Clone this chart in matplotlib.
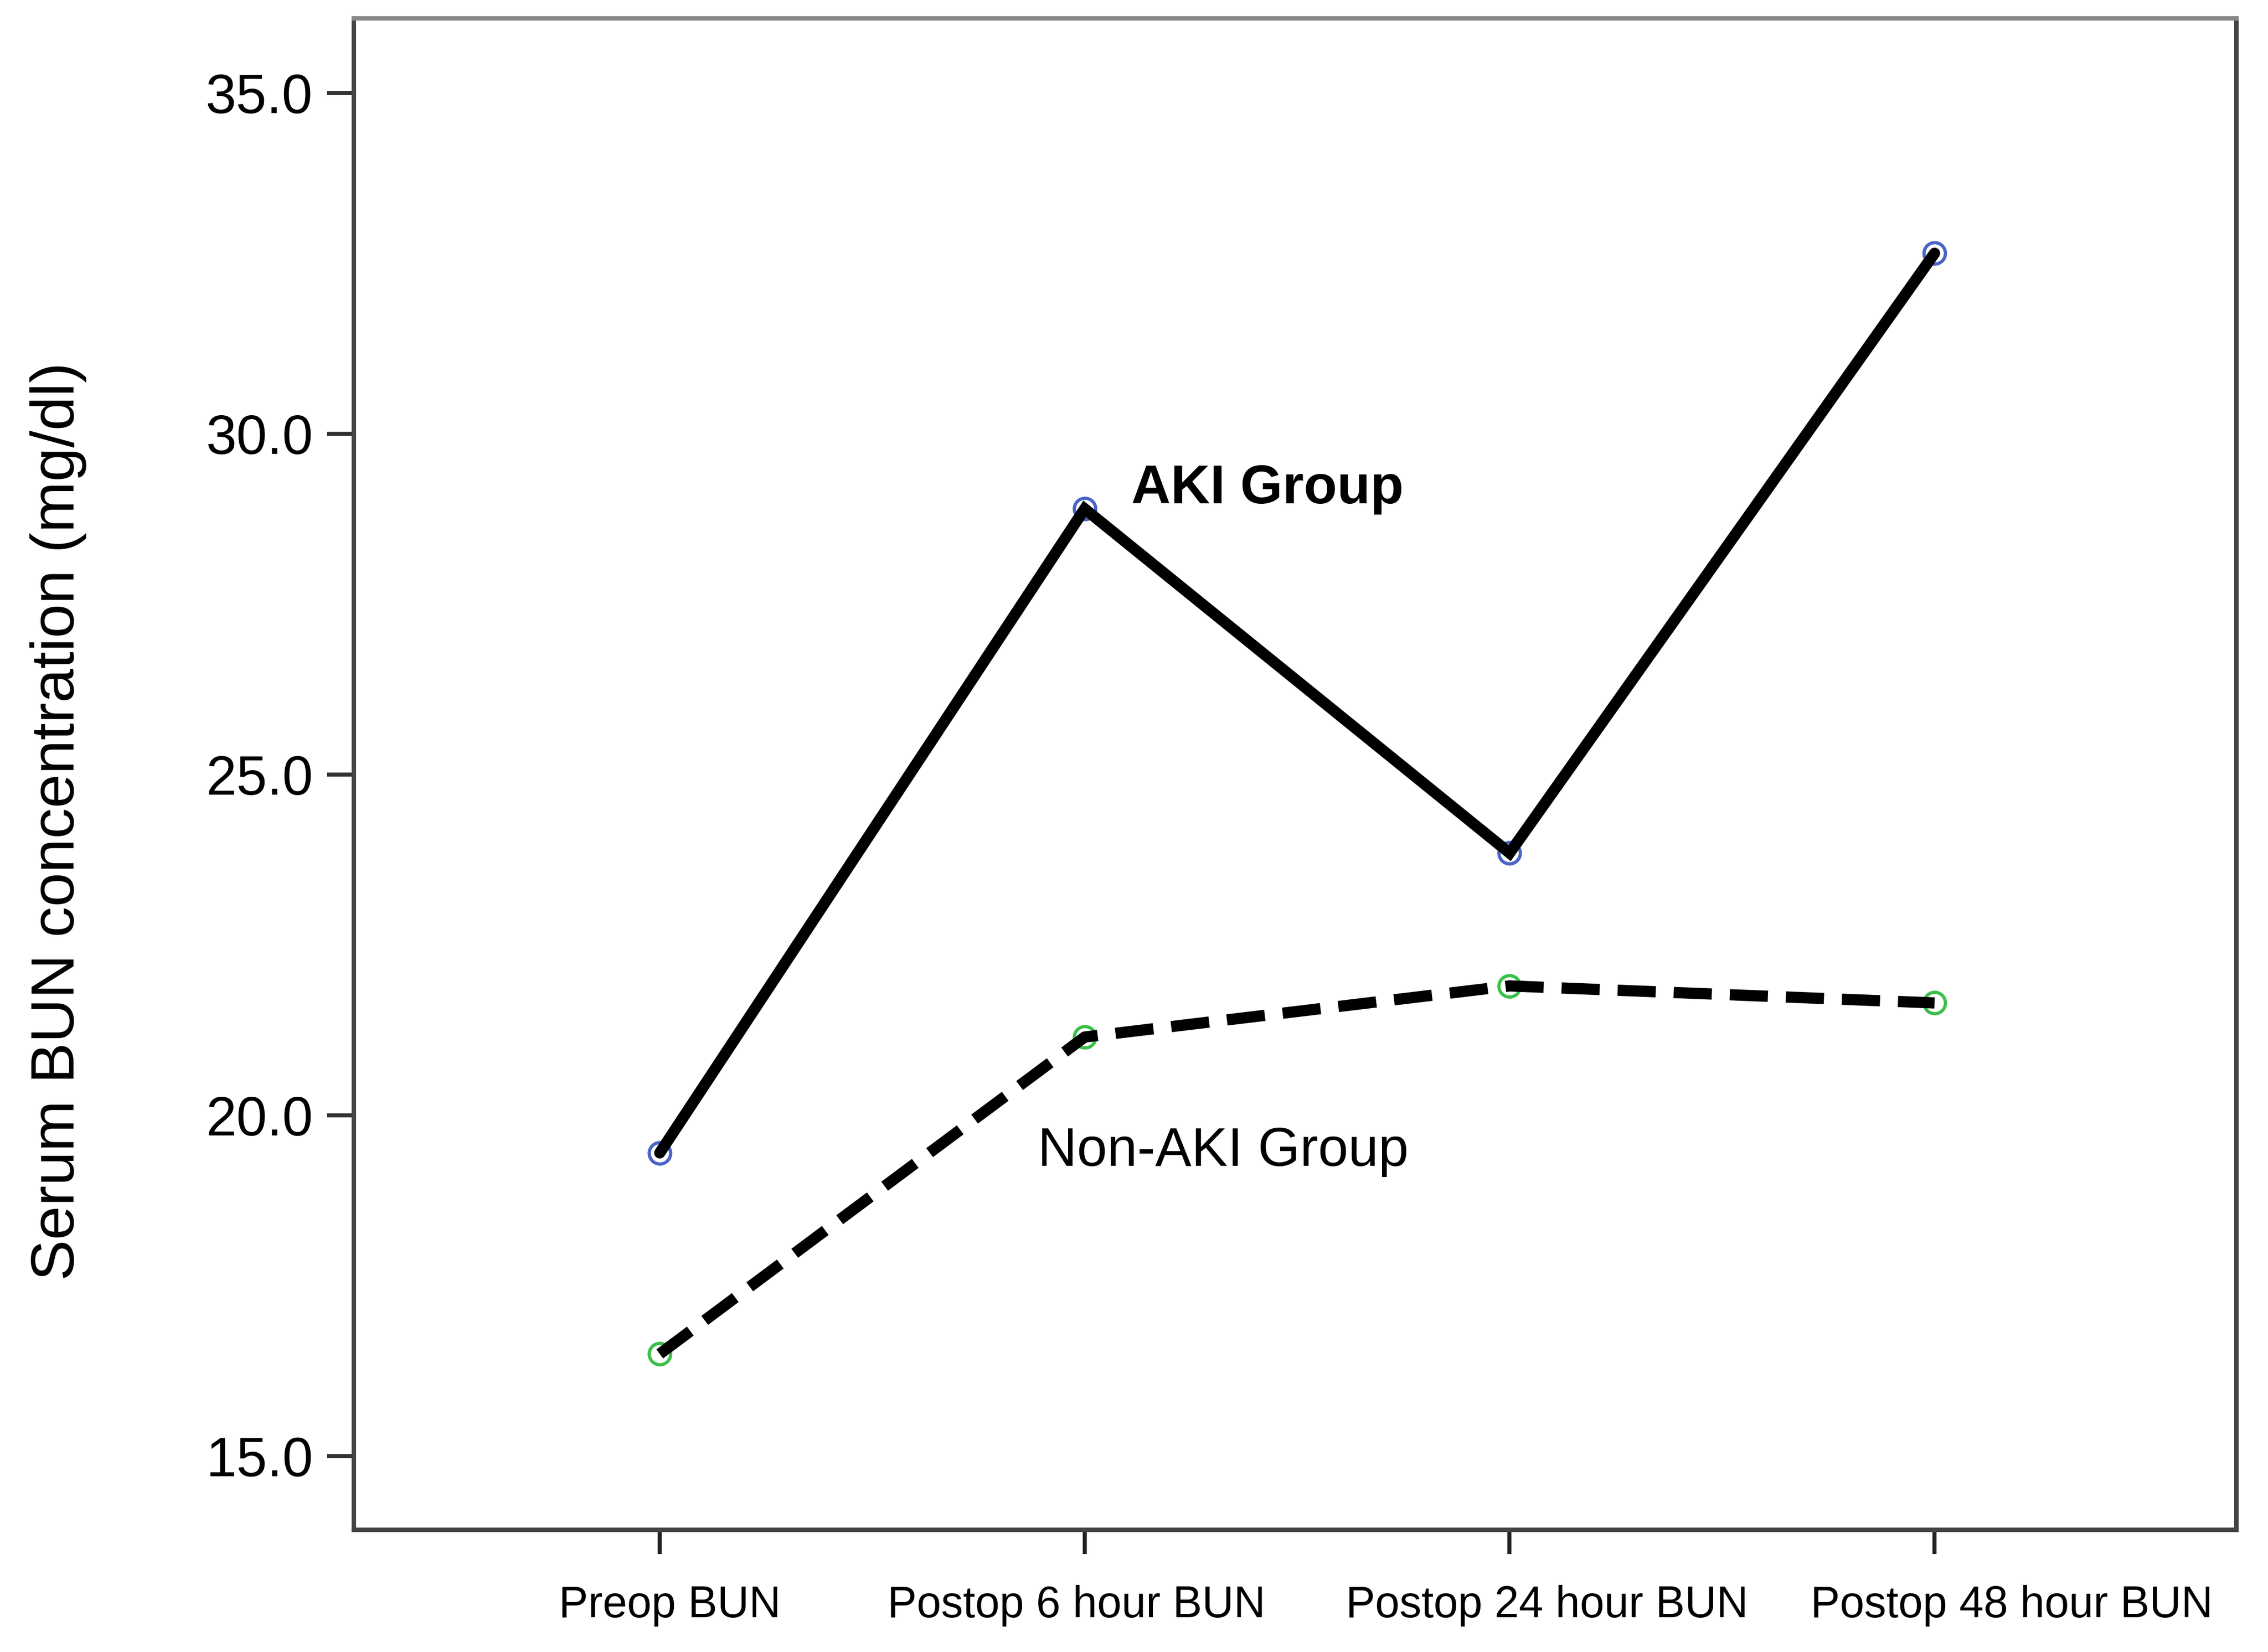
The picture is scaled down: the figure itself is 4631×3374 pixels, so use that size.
import matplotlib
matplotlib.use('Agg')
import matplotlib.pyplot as plt
import matplotlib.transforms as mtransforms

plt.rcParams['font.family'] = ['Liberation Sans', 'DejaVu Sans']

# 데이터
time_points = ['Preop BUN', 'Postop 6 hour BUN', 'Postop 24 hour BUN', 'Postop 48 hour BUN']
aki_bun = [19.45, 28.9, 23.85, 32.65]
non_aki_bun = [16.5, 21.15, 21.9, 21.65]
y_ticks = [15.0, 20.0, 25.0, 30.0, 35.0]

x = list(range(len(time_points)))

fig = plt.figure(figsize=(4631 / 300, 3374 / 300), dpi=300)
ax = fig.add_axes([0.156, 0.074, 0.830, 0.915])

# 마커 먼저, 선은 위에
ax.plot(x, aki_bun, linestyle='none', marker='o', markersize=10.5, markerfacecolor='white',
        markeredgecolor='#4a64c8', markeredgewidth=1.6, zorder=2)
ax.plot(x, aki_bun, color='black', linewidth=5.5, solid_capstyle='round', solid_joinstyle='miter', zorder=3)

ax.plot(x, non_aki_bun, linestyle='none', marker='o', markersize=10.5, markerfacecolor='white',
        markeredgecolor='#3cc04a', markeredgewidth=1.6, zorder=2)
ax.plot(x, non_aki_bun, color='black', linewidth=5.5, dashes=(3.4, 1.6), dash_capstyle='butt', zorder=3)

ax.text(1.11, 28.98, 'AKI Group', fontsize=26.7, fontweight='bold', ha='left', va='baseline')
ax.text(0.89, 19.26, 'Non-AKI Group', fontsize=26.6, ha='left', va='baseline')

ax.set_xlim(-0.72, 3.71)
ax.set_ylim(13.92, 36.1)
ax.set_xticks(x)
ax.set_xticklabels([])
ax.set_yticks(y_ticks)
ax.set_yticklabels(['%.1f' % v for v in y_ticks], fontsize=27)

# 원본처럼 x 라벨이 눈금에서 조금씩 밀려 있음 (pt 단위)
label_shift = [5.0, -4.1, 18.2, 37.7]
for xi, name, dx in zip(x, time_points, label_shift):
    tr = ax.get_xaxis_transform() + mtransforms.ScaledTranslation(dx / 72, -27 / 72, fig.dpi_scale_trans)
    ax.text(xi, 0, name, fontsize=21.5, ha='center', va='top', transform=tr)

fig.text(0.0256, 0.503, 'Serum BUN concentration (mg/dl)', fontsize=30, rotation=90,
         ha='center', va='center')

for side in ['left', 'bottom', 'right']:
    ax.spines[side].set_color('#444444')
    ax.spines[side].set_linewidth(2.2)
ax.spines['top'].set_color('#888888')
ax.spines['top'].set_linewidth(2.2)

ax.tick_params(axis='y', direction='out', length=13, width=2, color='#333333', pad=7)
ax.tick_params(axis='x', direction='out', length=12, width=2, color='#222222')

fig.savefig('out.png', dpi=300)
